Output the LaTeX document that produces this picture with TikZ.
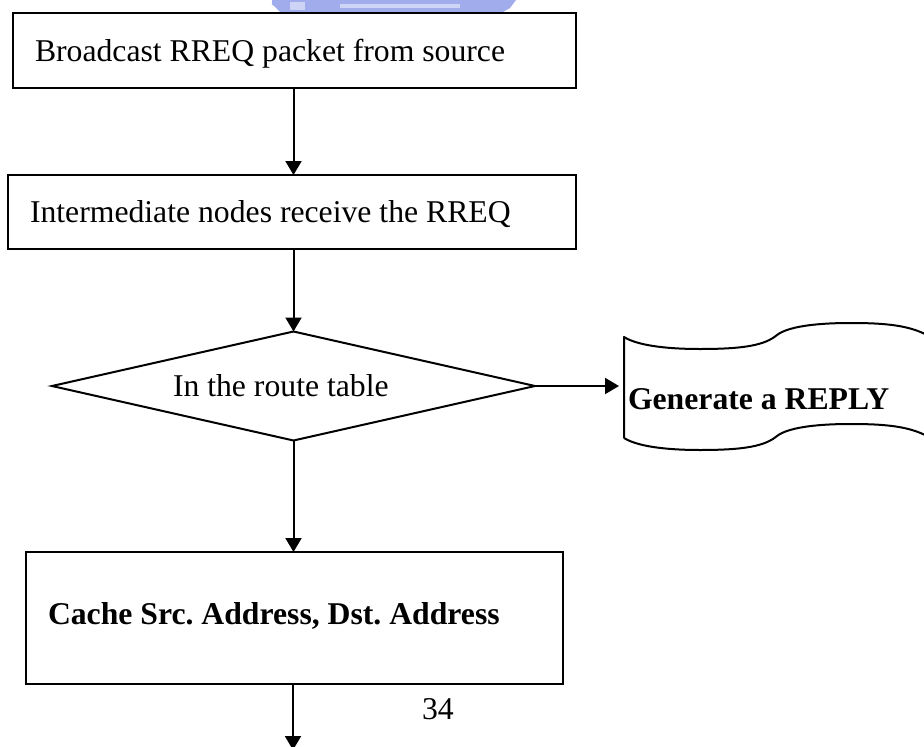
\documentclass[tikz,border=0pt]{standalone}
\usepackage{fontspec}
\setmainfont{Liberation Serif}
\usetikzlibrary{arrows.meta,shapes.geometric}
\definecolor{wmblue}{RGB}{160,172,236}
\definecolor{wmlight}{RGB}{205,212,246}
\frenchspacing
\tikzset{
  stepbox/.style={draw, line width=2pt, rectangle, inner sep=0pt, outer sep=0pt},
  decbox/.style={draw, line width=2pt, diamond, inner sep=0pt, outer sep=0pt},
  lbl/.style={inner sep=0pt, outer sep=0pt, font=\fontsize{31.7}{38}\selectfont},
  blbl/.style={lbl, font=\fontsize{31.7}{38}\selectfont\bfseries},
  arr/.style={line width=2pt, -{Triangle[length=14pt,width=16pt]}},
  docline/.style={line width=2pt, line join=round}
}
\begin{document}
\begin{tikzpicture}[x=1pt,y=-1pt]
\useasboundingbox (0,0) rectangle (924,747);
\clip (0,0) rectangle (924,747);
\fill[white] (0,0) rectangle (924,747);

% watermark fragment
\fill[wmblue] (266,0) -- (516,0) -- (510,8) -- (503,12) -- (280,12) -- (274,6) -- cycle;
\fill[wmlight] (340,4) rectangle (460,8);
\fill[wmlight] (290,2) rectangle (305,10);
\fill[white] (262,0) rectangle (272,4);

% boxes
\node[stepbox, minimum width=563pt, minimum height=75pt] (b1) at (294.5,50.5) {};
\node[lbl, anchor=base west] (t1) at (35,61) {Broadcast RREQ packet from source};

\node[stepbox, minimum width=568pt, minimum height=74pt] (b2) at (292,212) {};
\node[lbl, anchor=base west] (t2) at (30,222) {Intermediate nodes receive the RREQ};

\node[decbox, minimum width=483pt, minimum height=109pt] (d) at (293.5,386) {};
\node[lbl, anchor=base west] (t3) at (173,396) {In the route table};

\node[stepbox, minimum width=537pt, minimum height=132pt] (b3) at (294.5,618) {};
\node[blbl, anchor=base west] (t4) at (48,624) {Cache Src. Address, Dst. Address};

% document shape
\coordinate (dnw) at (624,337);
\coordinate (dsw) at (624,438);
\coordinate (dw) at (624,386);
\draw[docline] (dsw) -- (dnw)
  .. controls (640,347) and (675,349) .. (700,349)
  .. controls (745,349) and (765,345) .. (777,335)
  .. controls (790,325) and (825,323) .. (850,323)
  .. controls (885,323) and (912,325) .. (932,338)
  -- (932,439)
  .. controls (912,426) and (885,424) .. (850,424)
  .. controls (825,424) and (790,426) .. (777,436)
  .. controls (765,446) and (745,450) .. (700,450)
  .. controls (675,450) and (640,448) .. (dsw);
\node[blbl, anchor=base west] (t5) at (628,409) {Generate a REPLY};

\node[lbl, anchor=base west] (pg) at (422,719) {34};

% connectors
\coordinate (end) at (293,750);
\draw[arr] (b1.south -| d.north) -- (b2.north -| d.north);
\draw[arr] (b2.south -| d.north) -- (d.north);
\draw[arr] (d.south) -- (b3.north -| d.south);
\draw[arr] (b3.south -| end) -- (end);
\draw[arr] (d.east) -- ([xshift=-5pt]dw);
\end{tikzpicture}
\end{document}
